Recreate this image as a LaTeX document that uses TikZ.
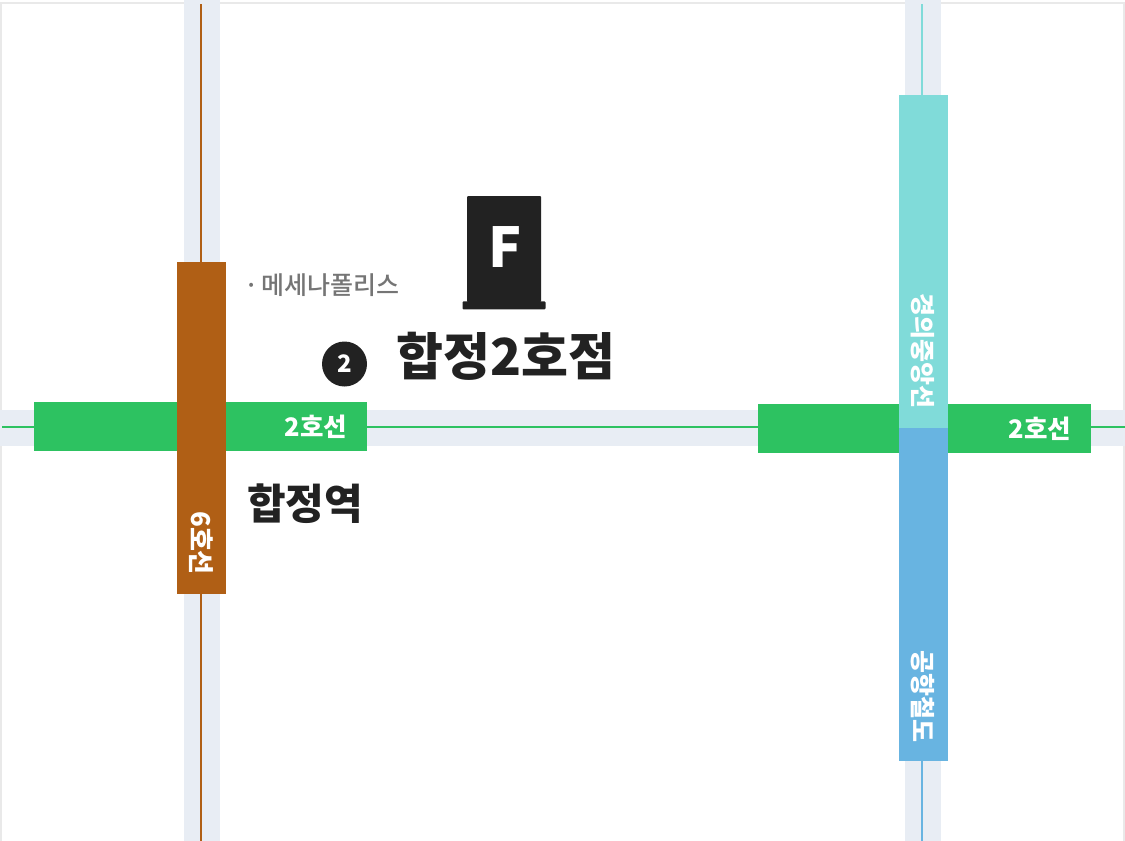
\documentclass[tikz,border=0pt]{standalone}
\usepackage{fontspec}
\setmainfont{Noto Sans CJK KR}
\newfontfamily\mediumfont{Noto Sans CJK KR Medium}
\usetikzlibrary{positioning}
\definecolor{roadcol}{HTML}{E8EDF4}
\definecolor{greencol}{HTML}{2DC261}
\definecolor{browncol}{HTML}{B05F15}
\definecolor{tealcol}{HTML}{80DBD9}
\definecolor{bluecol}{HTML}{68B4E1}
\definecolor{darkcol}{HTML}{222222}
\definecolor{greycol}{HTML}{757575}
\definecolor{framecol}{HTML}{E9E9E9}
\tikzset{
  road/.style={fill=roadcol,draw=none},
  bar/.style={draw=none,inner sep=0pt,minimum width=#1},
  linelabel/.style={text=white,font=\fontsize{25}{25}\bfseries,inner sep=0pt},
  bigname/.style={text=darkcol,font=\fontsize{42}{42}\bfseries,inner sep=0pt}
}
\begin{document}
\begin{tikzpicture}[x=1pt,y=-1pt]
\useasboundingbox (0,0) rectangle (1125,841);
\fill[white] (0,0) rectangle (1125,841);
\draw[framecol,line width=2pt] (1,841) -- (1,3) -- (1124,3) -- (1124,841);
% roads
\fill[road] (184,0) rectangle (219.5,841);
\fill[road] (905,0) rectangle (940.5,841);
\fill[road] (0,410) rectangle (1125,446);
% track lines
\coordinate (w) at (2,427);
\coordinate (e) at (1125,427);
\draw[greencol,line width=1.5pt] (w) -- (e);
\coordinate (a) at (200.7,4);
\coordinate (b) at (200.7,841);
\draw[browncol,line width=2pt] (a) -- (b);
\coordinate (c) at (922,4);
\coordinate (d) at (922,400);
\coordinate (f) at (922,841);
\draw[tealcol,line width=2pt] (c) -- (d);
\draw[bluecol,line width=2pt] (d) -- (f);
% station bars
\node[fill=greencol,bar=333pt,minimum height=49pt] (line2a) at (200.5,426.5) {};
\node[fill=browncol,bar=49pt,minimum height=332pt] (line6) at (201.5,428) {};
\node[fill=greencol,bar=333pt,minimum height=49pt] (line2b) at (924.5,428.5) {};
\node[fill=tealcol,bar=49pt,minimum height=333pt] (jungang) at (923.5,261.5) {};
\node[fill=bluecol,bar=49pt,minimum height=333pt] (airport) at (923.5,594.5) {};
% bar labels
\node[linelabel,font=\fontsize{25.5}{25.5}\bfseries,anchor=east] (t2a) at (347.5,427) {2호선};
\node[linelabel,font=\fontsize{25.5}{25.5}\bfseries,anchor=east] (t2b) at (1071.5,429) {2호선};
\node[linelabel,font=\fontsize{26}{26}\bfseries,rotate=-90,anchor=west] (t6) at (201.5,511) {6호선};
\node[linelabel,rotate=-90,anchor=west] (tj) at (923,293) {경의중앙선};
\node[linelabel,rotate=-90,anchor=west] (ta) at (923,650) {공항철도};
% building
\node[fill=darkcol,minimum width=74pt,minimum height=106pt,inner sep=0pt,rounded corners=1pt] (bldg) at (504,249) {};
\node[fill=darkcol,minimum width=83pt,minimum height=8pt,inner sep=0pt,rounded corners=1pt,below=-1pt of bldg] (base) {};
\node[text=white,font=\fontsize{55}{55}\bfseries,inner sep=0pt] (flabel) at (505.5,247) {F};
% texts
\node[text=greycol,font=\mediumfont\fontsize{25}{25}\selectfont,inner sep=0pt,anchor=west] (mecenat) at (244,285) {·\hspace{-3pt} 메세나폴리스};
\node[fill=darkcol,circle,minimum size=45pt,inner sep=0pt,text=white,font=\fontsize{24}{24}\bfseries] (gate) at (344.5,364) {2};
\node[bigname,font=\fontsize{51}{51}\bfseries,anchor=west] (shop) at (396,356) {합정2호점};
\node[bigname,anchor=west] (station) at (247,504) {합정역};
\end{tikzpicture}
\end{document}
